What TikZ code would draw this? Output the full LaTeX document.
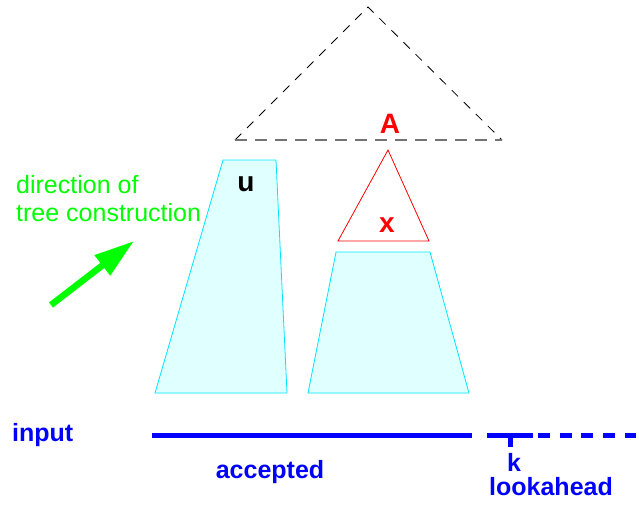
\documentclass[tikz,border=0pt]{standalone}
\usepackage{fontspec}
\setmainfont{Liberation Sans}
\usetikzlibrary{arrows.meta}
\definecolor{treefill}{RGB}{224,255,255}
\definecolor{treeline}{RGB}{0,230,255}
\definecolor{grn}{RGB}{0,255,0}
\begin{document}
\begin{tikzpicture}[x=1pt,y=-1pt,
  tree/.style={draw=treeline,fill=treefill,line width=0.8pt},
  lbl/.style={inner sep=0pt,anchor=base,font=\fontsize{25}{28}\selectfont\bfseries,text=blue},
  inputline/.style={blue,line width=5pt}]
\useasboundingbox (0,0) rectangle (639,507);
% dashed triangle
\coordinate (top) at (368,7);
\coordinate (bl) at (235,140);
\coordinate (br) at (502,140);
\draw[dashed,dash pattern=on 9pt off 8pt,line width=0.8pt] (bl) -- (top) -- (br);
\draw[gray!90!black,dash pattern=on 12pt off 8pt,line width=1.6pt] (bl) -- (br);
\node[inner sep=0pt,anchor=base,font=\fontsize{28}{30}\selectfont\bfseries,text=red] (A) at (390,133) {A};
% red triangle
\draw[red,line width=0.8pt] (388,150) coordinate (xt) -- (429,241) coordinate (xr) -- (338,241) coordinate (xl) -- cycle;
\node[inner sep=0pt,anchor=base,font=\fontsize{28}{30}\selectfont\bfseries,text=red] (x) at (387,232) {x};
% trapezoids
\draw[tree] (223,160) coordinate (ul) -- (276,160) coordinate (ur) -- (287,393) coordinate (ubr) -- (155,393) coordinate (ubl) -- cycle;
\node[inner sep=0pt,anchor=base,font=\fontsize{28}{30}\selectfont\bfseries] (u) at (246,191) {u};
\draw[tree] (336,252) coordinate (rl) -- (430,252) coordinate (rr) -- (469,393) coordinate (rbr) -- (308,393) coordinate (rbl) -- cycle;
% green text and arrow
\node[inner sep=0pt,anchor=base west,font=\fontsize{25}{28}\selectfont,text=grn] (dir1) at (16,193) {direction of};
\node[inner sep=0pt,anchor=base west,font=\fontsize{25}{28}\selectfont,text=grn] (dir2) at (16,221) {tree construction};
\coordinate (ga) at (51,305);
\coordinate (gb) at (134,241);
\draw[grn,line width=6.5pt,-{Triangle[width=24pt,length=40pt]}] (ga) -- (gb);
% input line
\coordinate (i1) at (152,435);
\coordinate (i2) at (472,435);
\coordinate (i3) at (487,435);
\coordinate (i4) at (533,435);
\coordinate (i5) at (636,435);
\coordinate (tk) at (510.5,435);
\coordinate (tkb) at (510.5,447);
\draw[inputline] (i1) -- (i2);
\draw[inputline] (i3) -- (i4);
\draw[inputline,dash pattern=on 12pt off 9.7pt] ([xshift=5pt]i4) -- (i5);
\draw[blue,line width=5pt] (tk) -- (tkb);
\node[lbl,anchor=base west] (inp) at (12,441) {input};
\node[lbl] (acc) at (270,478) {accepted};
\node[lbl] (k) at (514,471) {k};
\node[lbl] (la) at (551,495) {lookahead};
\end{tikzpicture}
\end{document}
